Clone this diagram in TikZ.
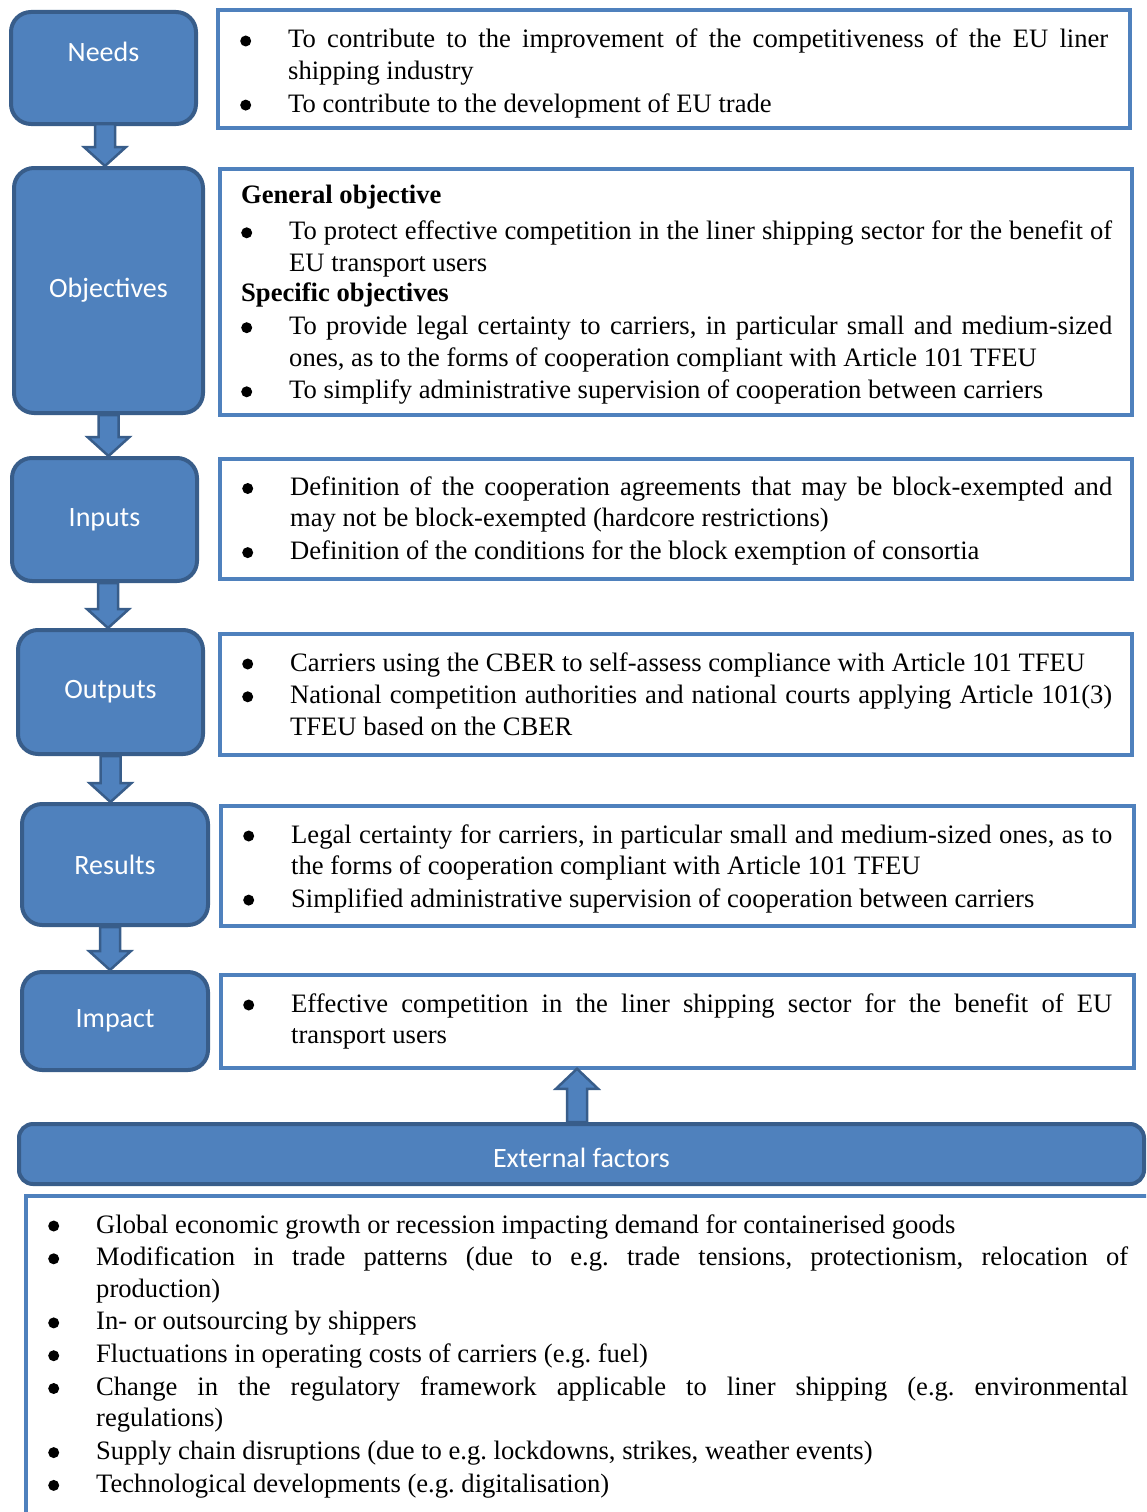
\documentclass[tikz,border=0pt]{standalone}
\usepackage{fontspec}
\setmainfont{Liberation Serif}
\newfontfamily\labelfont{Carlito}
\usetikzlibrary{calc}

\definecolor{boxblue}{HTML}{4F81BD}
\definecolor{boxedge}{HTML}{385D8A}

% bullet line with hanging indent
\newcommand{\bul}[1]{\hangindent=48pt\hangafter=1\noindent\makebox[48pt][l]{\tikz[baseline=0pt]\fill (5.5pt,7pt) circle[radius=5.5pt];}#1\par}
% block arrow: from, tip, head offset
\newcommand{\flowarrow}[3]{%
  \draw[arrowshape] ($(#1)+(-10,0)$) -- ($(#1)+(10,0)$) -- ($(#2)+(10,#3)$) -- ($(#2)+(21,#3)$)
    -- (#2) -- ($(#2)+(-21,#3)$) -- ($(#2)+(-10,#3)$) -- cycle;}

\begin{document}
\begin{tikzpicture}[x=1pt,y=-1pt,
  stagebox/.style={draw=boxedge,line width=4pt,fill=boxblue,rounded corners=20pt,
    text=white,font=\labelfont\fontsize{28}{34}\selectfont,inner sep=0pt},
  textframe/.style={draw=boxblue,line width=3.5pt,inner sep=0pt},
  textblock/.style={anchor=base west,inner sep=0pt,align=justify,
    font=\fontsize{26.6}{31.3}\selectfont,
    execute at begin node={\setlength\parskip{1.5pt}\frenchspacing\hyphenpenalty=10000\exhyphenpenalty=10000\tolerance=9999}},
  arrowshape/.style={draw=boxedge,line width=2.5pt,fill=boxblue,line join=miter}]
\useasboundingbox (0,0) rectangle (1146,1512);
\clip (0,0) rectangle (1146,1512);

% stages
\node[stagebox,minimum width=185pt,minimum height=112pt,text height=20pt,text depth=32pt] (needs) at (103.5,68) {Needs};
\node[stagebox,minimum width=189pt,minimum height=245pt] (objectives) at (108.5,290.5) {Objectives};
\node[stagebox,minimum width=185pt,minimum height=123pt] (inputs) at (104.5,519.5) {Inputs};
\node[stagebox,minimum width=185pt,minimum height=124pt] (outputs) at (110.5,692) {Outputs};
\node[stagebox,minimum width=186pt,minimum height=121pt] (results) at (115,864.5) {Results};
\node[stagebox,minimum width=186pt,minimum height=98pt] (impact) at (115,1021) {Impact};
\node[stagebox,rounded corners=14pt,minimum width=1125pt,minimum height=60pt,text height=26pt,text depth=0pt] (external) at (581.5,1154) {External factors};

% frames
\node[textframe,minimum width=912pt,minimum height=118pt] (needsframe) at (674,69) {};
\node[textframe,minimum width=912pt,minimum height=246pt] (objframe) at (676,292) {};
\node[textframe,minimum width=912pt,minimum height=120pt] (inputsframe) at (676,519) {};
\node[textframe,minimum width=912pt,minimum height=121pt] (outputsframe) at (676,694.5) {};
\node[textframe,minimum width=913pt,minimum height=120pt] (resultsframe) at (677.5,866) {};
\node[textframe,minimum width=913pt,minimum height=93pt] (impactframe) at (677.5,1021.5) {};
\draw[boxblue,line width=3.5pt] (1170,1196) -- (26,1196) -- (26,1540);

% texts
\node[textblock,text width=868pt] (needstext) at (240,48) {%
  \bul{To contribute to the improvement of the competitiveness of the EU liner\linebreak shipping industry}
  \bul{To contribute to the development of EU trade}};
\node[textblock,text width=871pt] (objtext) at (241,203) {%
  \textbf{General objective}\par\vspace{4pt}
  \bul{To protect effective competition in the liner shipping sector for the benefit of\linebreak EU transport users}
  \vspace{-2pt}\textbf{Specific objectives}\par
  \bul{To provide legal certainty to carriers, in particular small and medium-sized\linebreak ones, as to the forms of cooperation compliant with Article 101 TFEU}
  \bul{To simplify administrative supervision of cooperation between carriers}};
\node[textblock,text width=870pt] (inputstext) at (242,495.5) {%
  \bul{Definition of the cooperation agreements that may be block-exempted and\linebreak may not be block-exempted (hardcore restrictions)}
  \bul{Definition of the conditions for the block exemption of consortia}};
\node[textblock,text width=870pt] (outputstext) at (242,671) {%
  \bul{Carriers using the CBER to self-assess compliance with Article 101 TFEU}
  \bul{National competition authorities and national courts applying Article 101(3)\linebreak TFEU based on the CBER}};
\node[textblock,text width=869pt] (resultstext) at (243,843) {%
  \bul{Legal certainty for carriers, in particular small and medium-sized ones, as to\linebreak the forms of cooperation compliant with Article 101 TFEU}
  \bul{Simplified administrative supervision of cooperation between carriers}};
\node[textblock,text width=869pt] (impacttext) at (243,1012) {%
  \bul{Effective competition in the liner shipping sector for the benefit of EU\linebreak transport users}};
\node[textblock,text width=1080pt] (externaltext) at (48,1233) {%
  \bul{Global economic growth or recession impacting demand for containerised goods}
  \bul{Modification in trade patterns (due to e.g. trade tensions, protectionism, relocation of\linebreak production)}
  \bul{In- or outsourcing by shippers}
  \bul{Fluctuations in operating costs of carriers (e.g. fuel)}
  \bul{Change in the regulatory framework applicable to liner shipping (e.g. environmental\linebreak regulations)}
  \bul{Supply chain disruptions (due to e.g. lockdowns, strikes, weather events)}
  \bul{Technological developments (e.g. digitalisation)}};

% arrows
\coordinate (a1) at ($(needs.south)+(1.5,-2)$);
\coordinate (t1) at (a1 |- objectives.north);
\coordinate (a2) at (objectives.south);
\coordinate (t2) at (a2 |- inputs.north);
\coordinate (a3) at ($(inputs.south)+(3.5,0)$);
\coordinate (t3) at (a3 |- outputs.north);
\coordinate (a4) at (outputs.south);
\coordinate (t4) at (a4 |- results.north);
\coordinate (a5) at ($(results.south)+(-5,0)$);
\coordinate (t5) at (a5 |- impact.north);
\coordinate (a6) at ($(external.north)+(-4.5,0)$);
\coordinate (t6) at ($(a6 |- impactframe.south)+(0,-1)$);
\flowarrow{a1}{t1}{-19}
\flowarrow{a2}{t2}{-19}
\flowarrow{a3}{t3}{-19}
\flowarrow{a4}{t4}{-19}
\flowarrow{a5}{t5}{-19}
\flowarrow{a6}{t6}{20}
\end{tikzpicture}
\end{document}
